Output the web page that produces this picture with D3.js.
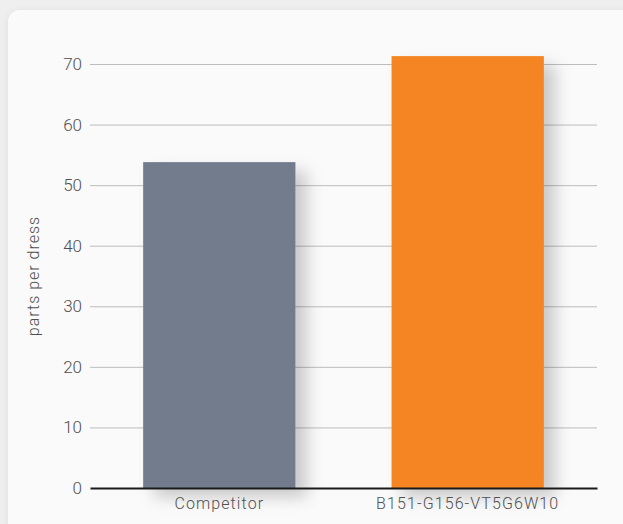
<!DOCTYPE html>
<html>
<head>
<meta charset="utf-8">
<script src="https://cdn.jsdelivr.net/npm/d3@7"></script>
<style>
  body { margin: 0; background: #efefef; }
  svg { display: block; }
  svg text { font-family: Roboto, sans-serif; font-weight: 300; }
</style>
</head>
<body>
<svg id="chart-area"></svg>
<script>
// data
const categories = ["Competitor", "B151-G156-VT5G6W10"]
const values = [53.8, 71.3]
const barColors = ["#737c8c", "#f58420"]
const yTicks = [0, 10, 20, 30, 40, 50, 60, 70]
const yLabel = "parts per dress"

function drawChart() {
    const svgWidth = 623
    const svgHeight = 524

    const svg = d3.select("#chart-area")
        .attr("width", svgWidth)
        .attr("height", svgHeight)

    const defs = svg.append("defs")
    const cardShadow = defs.append("filter").attr("id", "card-shadow")
        .attr("x", "-10%").attr("y", "-10%").attr("width", "130%").attr("height", "130%")
    cardShadow.append("feDropShadow")
        .attr("dx", 0).attr("dy", 1).attr("stdDeviation", 3)
        .attr("flood-color", "#000").attr("flood-opacity", 0.08)

    const barShadow = defs.append("filter").attr("id", "bar-shadow")
        .attr("x", "-20%").attr("y", "-20%").attr("width", "150%").attr("height", "150%")
    barShadow.append("feDropShadow")
        .attr("dx", 11).attr("dy", 9).attr("stdDeviation", 8)
        .attr("flood-color", "#000").attr("flood-opacity", 0.2)

    // card
    svg.append("rect")
        .attr("x", 8).attr("y", 10)
        .attr("width", 640).attr("height", 540)
        .attr("rx", 12)
        .attr("fill", "#fafafa")
        .attr("filter", "url(#card-shadow)")

    const yScale = d3.scaleLinear()
        .domain([0, 70])
        .range([488, 64])

    const xScale = d3.scaleBand()
        .domain(categories)
        .range([90, 597])
        .paddingInner(0.387)
        .paddingOuter(0.214)

    // gridlines
    svg.append("g")
        .selectAll("line")
        .data(yTicks.filter(d => d > 0))
        .join("line")
        .attr("x1", 90).attr("x2", 597)
        .attr("y1", d => yScale(d) + 0.5).attr("y2", d => yScale(d) + 0.5)
        .attr("stroke", "#bdbdbd")
        .attr("stroke-width", 1)

    // bars
    svg.append("g")
        .selectAll("rect")
        .data(values)
        .join("rect")
        .attr("x", (d, i) => xScale(categories[i]))
        .attr("y", d => yScale(d))
        .attr("width", xScale.bandwidth())
        .attr("height", d => yScale(0) - yScale(d))
        .attr("fill", (d, i) => barColors[i])
        .attr("filter", "url(#bar-shadow)")

    // y axis
    const yAxis = svg.append("g")
        .attr("transform", "translate(90,0)")
        .call(d3.axisLeft(yScale).tickValues(yTicks).tickSize(0).tickPadding(8))
    yAxis.select(".domain").remove()
    yAxis.selectAll(".tick text")
        .attr("fill", "#505050")
        .style("font-family", "Roboto, sans-serif")
        .style("font-size", "17px")

    // x axis
    const xAxis = svg.append("g")
        .attr("transform", "translate(0,488)")
        .call(d3.axisBottom(xScale).tickSize(0).tickPadding(10))
    xAxis.select(".domain")
        .attr("stroke", "#1a1a1a")
        .attr("stroke-width", 2)
    xAxis.selectAll(".tick text")
        .attr("fill", "#505050")
        .style("font-family", "Roboto, sans-serif")
        .style("font-size", "16px")
        .style("letter-spacing", "1.1px")

    // y label
    svg.append("text")
        .attr("transform", `translate(39,${(yScale(0) + yScale(70)) / 2}) rotate(-90)`)
        .attr("text-anchor", "middle")
        .attr("fill", "#505050")
        .style("font-size", "16px")
        .style("letter-spacing", "1px")
        .text(yLabel)
}

drawChart()
</script>
</body>
</html>
